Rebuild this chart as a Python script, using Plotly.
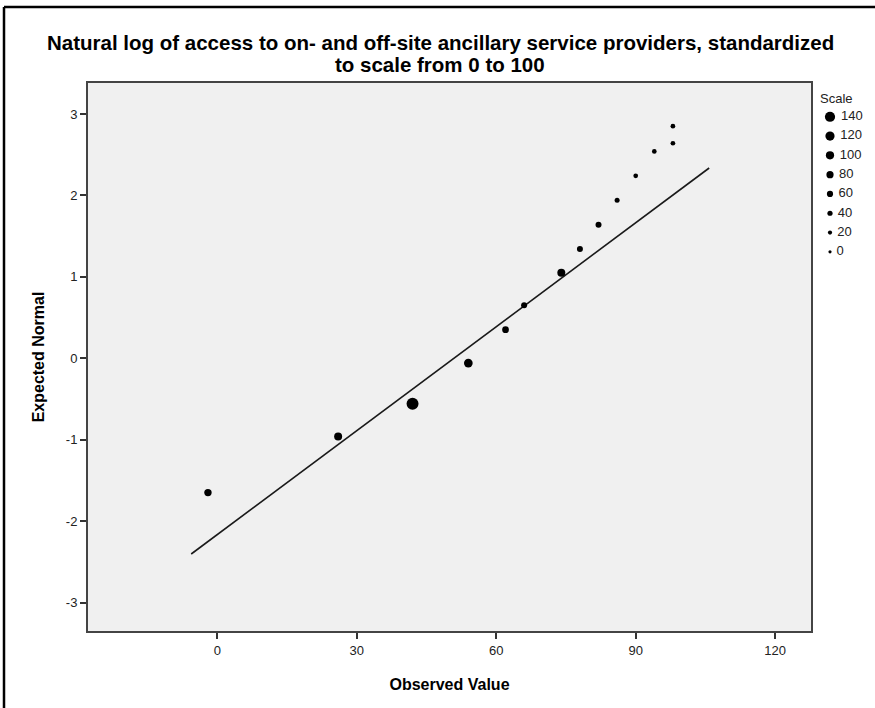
import plotly.graph_objects as go

# ---- data ----
observed = [-2, 26, 42, 54, 62, 66, 74, 78, 82, 86, 90, 94, 98, 98]
expected = [-1.65, -0.96, -0.56, -0.06, 0.35, 0.65, 1.05, 1.34, 1.64, 1.94, 2.24, 2.54, 2.64, 2.85]
scale_vals = [84, 96, 175, 110, 70, 56, 96, 56, 56, 36, 30, 30, 30, 30]

# normal reference line
line_mean = 50.9
line_sd = 23.5
line_x = [-5.6, 105.8]

legend_vals = [140, 120, 100, 80, 60, 40, 20, 0]
legend_labels = ["140", "120", "100", "80", "60", "40", "20", "0"]

x_ticks = [0, 30, 60, 90, 120]
y_ticks = [-3, -2, -1, 0, 1, 2, 3]

title_lines = ["Natural log of access to on- and off-site ancillary service providers, standardized",
               "to scale from 0 to 100"]

FONT = "Liberation Sans, Arial, sans-serif"


def msize(v):
    return 3.2 + 0.05 * v


W, H = 875, 708
ML, MR, MT, MB = 88, 0, 83, 77
PW = W - ML - MR
PH = H - MT - MB
plot_right_px = 811


def px_x(px):
    return (px - ML) / PW


def px_y(py):
    return (H - MB - py) / PH


fig = go.Figure()

line_y = [(x - line_mean) / line_sd for x in line_x]
fig.add_trace(go.Scatter(
    x=line_x, y=line_y, mode="lines",
    line=dict(color="#1a1a1a", width=1.6),
    hoverinfo="skip", showlegend=False,
))

fig.add_trace(go.Scatter(
    x=observed, y=expected, mode="markers",
    marker=dict(size=[msize(v) for v in scale_vals], color="black", opacity=1,
                line=dict(width=0)),
    showlegend=False,
))

# legend as a small side panel
fig.add_trace(go.Scatter(
    x=[0] * len(legend_vals), y=legend_vals, mode="markers+text",
    marker=dict(size=[msize(v) for v in legend_vals], color="black", opacity=1,
                line=dict(width=0)),
    text=[" " + s for s in legend_labels], textposition="middle right",
    textfont=dict(family=FONT, size=13, color="#222"),
    xaxis="x2", yaxis="y2", showlegend=False, hoverinfo="skip",
))

annotations = [
    dict(text=title_lines[0], x=px_x(440), y=px_y(42), xref="paper", yref="paper",
         xanchor="center", yanchor="middle", showarrow=False,
         font=dict(family=FONT, size=20.5, color="black", weight="bold")),
    dict(text=title_lines[1], x=px_x(440), y=px_y(64), xref="paper", yref="paper",
         xanchor="center", yanchor="middle", showarrow=False,
         font=dict(family=FONT, size=20.5, color="black", weight="bold")),
    dict(text="Scale", x=px_x(818), y=px_y(99), xref="paper", yref="paper",
         xanchor="left", yanchor="middle", showarrow=False,
         font=dict(family=FONT, size=13, color="#222")),
]

fig.update_layout(
    width=W, height=H,
    margin=dict(l=ML, r=MR, t=MT, b=MB, autoexpand=False),
    paper_bgcolor="white",
    plot_bgcolor="white",
    font=dict(family=FONT, size=12, color="#222"),
    xaxis=dict(
        domain=[0, px_x(plot_right_px)],
        range=[-27.8, 127.7],
        tickvals=x_ticks, ticktext=[str(t) for t in x_ticks],
        ticks="outside", ticklen=6, tickwidth=1.5, tickcolor="#333",
        showline=True, linecolor="#444", linewidth=2, mirror=True,
        showgrid=False, zeroline=False, automargin=False,
        tickfont=dict(family=FONT, size=13, color="#222"),
        title=dict(text="Observed Value", standoff=22,
                   font=dict(family=FONT, size=16, color="black", weight="bold")),
    ),
    yaxis=dict(
        range=[-3.35, 3.38],
        tickvals=y_ticks, ticktext=[str(t) for t in y_ticks],
        ticks="outside", ticklen=6, tickwidth=1.5, tickcolor="#333",
        showline=True, linecolor="#444", linewidth=2, mirror=True,
        showgrid=False, zeroline=False, automargin=False,
        tickfont=dict(family=FONT, size=13, color="#222"),
        title=dict(text="Expected Normal", standoff=17,
                   font=dict(family=FONT, size=16, color="black", weight="bold")),
    ),
    xaxis2=dict(domain=[px_x(812), 1], range=[-18, 45], visible=False, anchor="y2",
                automargin=False),
    yaxis2=dict(domain=[0, 1], range=[-393, 175], visible=False, anchor="x2",
                automargin=False),
    showlegend=False,
    annotations=annotations,
    shapes=[
        dict(type="rect", xref="x domain", yref="y domain",
             x0=0, x1=1, y0=0, y1=1, layer="below",
             fillcolor="#F0F0F0", line=dict(width=0)),
        dict(type="line", xref="paper", yref="paper",
             x0=px_x(4), x1=px_x(4), y0=px_y(715), y1=px_y(7),
             line=dict(color="black", width=2.5)),
        dict(type="line", xref="paper", yref="paper",
             x0=px_x(4), x1=px_x(880), y0=px_y(7), y1=px_y(7),
             line=dict(color="black", width=2.5)),
    ],
)

fig.write_html("out.html", config={"displayModeBar": False},
               post_script="document.body.style.margin='0px';document.body.style.overflow='hidden';")
